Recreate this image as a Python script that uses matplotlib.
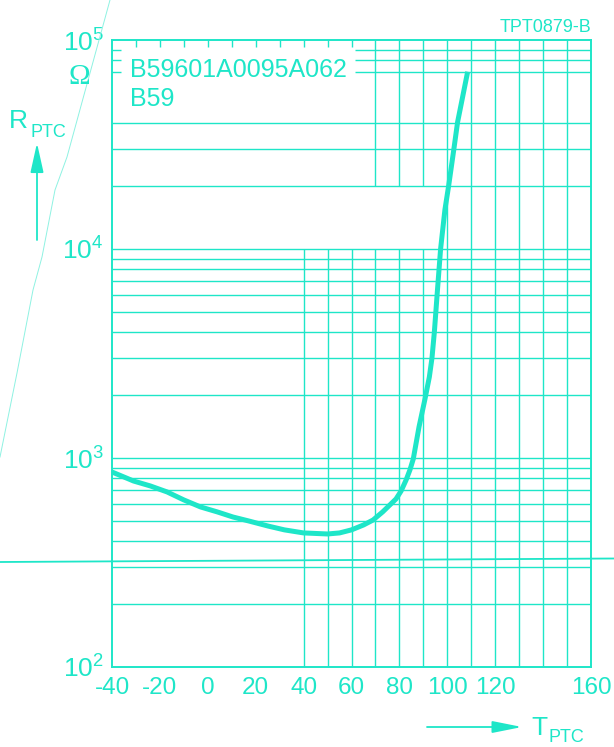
import numpy as np
import matplotlib
matplotlib.use("Agg")
import matplotlib.pyplot as plt
from matplotlib.lines import Line2D

plt.rcParams['font.family'] = ['Liberation Sans', 'DejaVu Sans']
plt.rcParams['mathtext.fontset'] = 'custom'
plt.rcParams['mathtext.rm'] = 'Liberation Sans'

# curve (T in degC, R in ohm)
temp = [-40, -31, -24, -17, -10, -3, 4, 10.5, 17, 25, 32, 40, 50, 55, 60, 65, 69, 73,
        76, 78.6, 80.7, 82.8, 84.4, 85.8, 88.2, 90.7, 92.5, 93.6, 94.6, 95.8, 97.2, 99.0,
        100.6, 102.8, 104.3, 108.5]
r_ptc = [857, 776, 735, 688, 630, 583, 552, 522, 500, 473, 453, 438, 433, 438, 453, 478, 505, 552,
         596, 637, 695, 785, 877, 990, 1410, 1920, 2440, 3010, 4010, 6160, 10000, 15400,
         20200, 30400, 40500, 70500]

xticks = [-40, -20, 0, 20, 40, 60, 80, 100, 120, 160]
xticklabels = ['-40', '-20', '0', '20', '40', '60', '80', '100', '120', '160']
yticks = [1e2, 1e3, 1e4, 1e5]
yticklabels = [r'$\mathregular{10^{2}}$', r'$\mathregular{10^{3}}$',
               r'$\mathregular{10^{4}}$', r'$\mathregular{10^{5}}$']

c = '#1ee6c8'
W, H = 614, 747

def fx(x):
    return x / W

def fy(y):
    return 1 - y / H

fig = plt.figure(figsize=(W / 100, H / 100), dpi=100)
ax = fig.add_axes([fx(112), fy(667), 479 / W, 627 / H])
ax.set_yscale('log')
ax.set_xlim(-40, 160)
ax.set_ylim(1e2, 1e5)

# grid, drawn piecewise like on the sheet
glw = 1.0
minors = [m * 10 ** e for e in (2, 3) for m in range(2, 10)] + [1e3, 1e4, 2e4, 3e4, 4e4]
ax.hlines(minors, -40, 160, color=c, lw=glw)
ax.hlines([7e4, 8e4, 9e4], 61.5, 160, color=c, lw=glw)
ax.hlines([7e4, 8e4, 9e4], -40, -36.3, color=c, lw=glw)
ax.vlines([40, 50, 60, 70, 80, 90], 1e2, 1e4, color=c, lw=glw)
ax.vlines([70, 80, 90], 2e4, 1e5, color=c, lw=glw)
ax.vlines([100, 110, 120, 130, 140, 150], 1e2, 1e5, color=c, lw=glw)
ax.vlines(np.arange(-30, 61, 10), 1 - 7 / 627, 1, color=c, lw=glw,
          transform=ax.get_xaxis_transform())

ax.plot(temp, r_ptc, color=c, lw=3.6, solid_capstyle='butt', solid_joinstyle='round', zorder=5)

for s in ax.spines.values():
    s.set_color(c)
    s.set_linewidth(1.4)

ax.yaxis.set_minor_locator(matplotlib.ticker.NullLocator())
ax.set_xticks(xticks)
ax.set_xticklabels(xticklabels)
ax.set_yticks(yticks)
ax.set_yticklabels(yticklabels)
ax.tick_params(axis='x', length=0, pad=7, labelsize=17.5, labelcolor=c)
ax.tick_params(axis='y', length=0, pad=6, labelsize=19, labelcolor=c)

# labels
fig.text(fx(130), fy(77), 'B59601A0095A062', color=c, fontsize=18, va='baseline',
         bbox=dict(fc='white', ec='none', pad=0))
fig.text(fx(130), fy(106), 'B59', color=c, fontsize=18, va='baseline')
fig.text(fx(591), fy(32), 'TPT0879-B', color=c, fontsize=13, va='baseline', ha='right')
fig.text(fx(68), fy(84), 'Ω', color=c, fontsize=21, va='baseline', family='Liberation Serif')
fig.text(fx(9), fy(128), 'R', color=c, fontsize=19, va='baseline')
fig.text(fx(30), fy(137), 'PTC', color=c, fontsize=13, va='baseline')
fig.text(fx(531), fy(735), 'T', color=c, fontsize=19, va='baseline')
fig.text(fx(549), fy(742), 'PTC', color=c, fontsize=13, va='baseline')

ax.annotate('', xy=(fx(37), fy(143)), xytext=(fx(37), fy(240)), xycoords='figure fraction',
            arrowprops=dict(arrowstyle='-|>,head_length=0.9,head_width=0.2', color=c,
                            lw=1.3, mutation_scale=20, shrinkA=0, shrinkB=0))
ax.annotate('', xy=(fx(522), fy(727)), xytext=(fx(427), fy(727)), xycoords='figure fraction',
            arrowprops=dict(arrowstyle='-|>,head_length=0.9,head_width=0.18', color=c,
                            lw=1.3, mutation_scale=20, shrinkA=0, shrinkB=0))

# scan artefacts on the original sheet
fig.add_artist(Line2D([0, 1], [fy(562), fy(558.5)], color=c, lw=1.3))
px = [110, 90, 67, 55, 42, 33, 17, 0]
py = [0, 73, 157, 190, 257, 290, 373, 457]
fig.add_artist(Line2D([fx(v) for v in px], [fy(v) for v in py], color='#8ef2e2', lw=0.7))

fig.savefig('out.png', dpi=100, facecolor='white')
